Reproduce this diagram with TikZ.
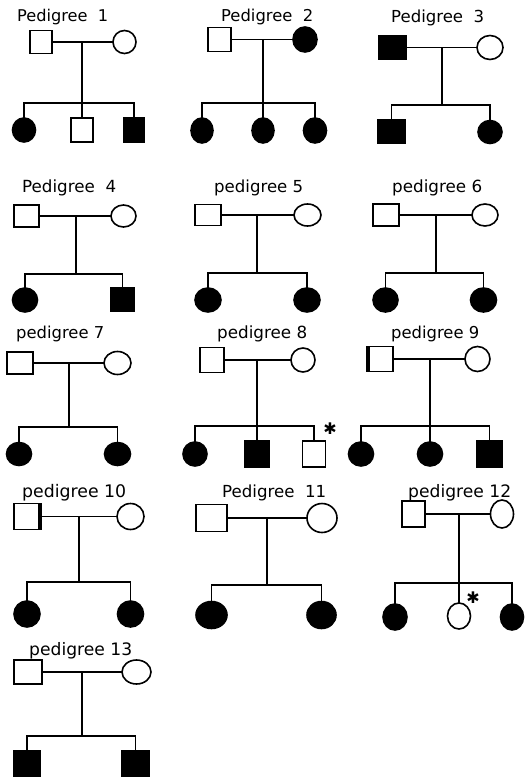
\documentclass[tikz,border=0pt]{standalone}
\usepackage{fontspec}
\usepackage{graphicx}
\setmainfont{DejaVu Sans}
\usetikzlibrary{shapes.geometric}
\newcommand{\pedlab}[2]{\resizebox{#1pt}{!}{#2}}
\tikzset{
  ind/.style={draw=black, line width=1.6pt, inner sep=0pt, outer sep=0pt},
  male/.style 2 args={ind, rectangle, minimum width=#1pt, minimum height=#2pt},
  female/.style 2 args={ind, ellipse, minimum width=#1pt, minimum height=#2pt},
  aff/.style={fill=black},
  lnk/.style={line width=1.6pt},
  lbl/.style={anchor=base west, inner sep=0pt, font=\fontsize{16}{19}\selectfont},
  star/.style={inner sep=0pt, font=\fontsize{16}{18}\selectfont}
}
\begin{document}
\begin{tikzpicture}[x=1pt, y=-1pt]
\useasboundingbox[fill=white] (0,0) rectangle (526,778);

% ---------- Pedigree 1
\node[lbl] (p1t) at (17,22) {\pedlab{91}{Pedigree\ \ 1}};
\node[male={22}{23}] (p1f) at (41,42) {};
\node[female={23}{23}] (p1m) at (124.5,42) {};
\coordinate (p1u) at (82,42);
\coordinate (p1s) at (82,103);
\node[female={23}{24}, aff] (p1c1) at (24,130) {};
\node[male={22}{24}] (p1c2) at (82,130) {};
\node[male={21}{24}, aff] (p1c3) at (134,130) {};
\draw[lnk] (p1f) -- (p1m);
\draw[lnk] (p1u) -- (p1s);
\draw[lnk] (p1c1) |- (p1s) -| (p1c3);
\draw[lnk] (p1s) -- (p1c2);

% ---------- Pedigree 2
\node[lbl] (p2t) at (221,22) {\pedlab{92}{Pedigree\ \ 2}};
\node[male={23}{24}] (p2f) at (219.5,39.5) {};
\node[female={24}{25}, aff] (p2m) at (305,39.5) {};
\coordinate (p2u) at (263,39.5);
\coordinate (p2s) at (263,103);
\node[female={22}{25}, aff] (p2c1) at (202,130.5) {};
\node[female={22}{25}, aff] (p2c2) at (263,130.5) {};
\node[female={23}{25}, aff] (p2c3) at (315,130.5) {};
\draw[lnk] (p2f) -- (p2m);
\draw[lnk] (p2u) -- (p2s);
\draw[lnk] (p2c1) |- (p2s) -| (p2c3);
\draw[lnk] (p2s) -- (p2c2);

% ---------- Pedigree 3
\node[lbl] (p3t) at (391,22.5) {\pedlab{93}{Pedigree\ \ 3}};
\node[male={27}{23}, aff] (p3f) at (392.5,47.5) {};
\node[female={26}{24}] (p3m) at (490,47.5) {};
\coordinate (p3u) at (442,47.5);
\coordinate (p3s) at (442,105);
\node[male={27}{23}, aff] (p3c1) at (391.5,131.5) {};
\node[female={24}{23}, aff] (p3c2) at (490,132) {};
\draw[lnk] (p3f) -- (p3m);
\draw[lnk] (p3u) -- (p3s);
\draw[lnk] (p3c1) |- (p3s) -| (p3c2);

% ---------- Pedigree 4
\node[lbl] (p4t) at (22,193) {\pedlab{94}{Pedigree\ \ 4}};
\node[male={25}{22}] (p4f) at (26.5,216) {};
\node[female={25}{22}] (p4m) at (123.5,216) {};
\coordinate (p4u) at (76,216);
\coordinate (p4s) at (76,274);
\node[female={25}{24}, aff] (p4c1) at (25,300) {};
\node[male={24}{23}, aff] (p4c2) at (122.5,299.5) {};
\draw[lnk] (p4f) -- (p4m);
\draw[lnk] (p4u) -- (p4s);
\draw[lnk] (p4c1) |- (p4s) -| (p4c2);

% ---------- Pedigree 5
\node[lbl] (p5t) at (214,193) {\pedlab{89}{pedigree 5}};
\node[male={26}{21}] (p5f) at (208,215) {};
\node[female={27}{22}] (p5m) at (307.5,215) {};
\coordinate (p5u) at (257,215);
\coordinate (p5s) at (257,273);
\node[female={26}{24}, aff] (p5c1) at (208,300) {};
\node[female={26}{24}, aff] (p5c2) at (307,300) {};
\draw[lnk] (p5f) -- (p5m);
\draw[lnk] (p5u) -- (p5s);
\draw[lnk] (p5c1) |- (p5s) -| (p5c2);

% ---------- Pedigree 6
\node[lbl] (p6t) at (392,193) {\pedlab{90}{pedigree 6}};
\node[male={26}{22}] (p6f) at (386,215) {};
\node[female={26}{22}] (p6m) at (485,215) {};
\coordinate (p6u) at (436,215);
\coordinate (p6s) at (436,273);
\node[female={25}{24}, aff] (p6c1) at (385.5,300) {};
\node[female={26}{24}, aff] (p6c2) at (483.5,300) {};
\draw[lnk] (p6f) -- (p6m);
\draw[lnk] (p6u) -- (p6s);
\draw[lnk] (p6c1) |- (p6s) -| (p6c2);

% ---------- Pedigree 7
\node[lbl] (p7t) at (16,338) {\pedlab{88}{pedigree 7}};
\node[male={26}{22}] (p7f) at (20,363) {};
\node[female={27}{23}] (p7m) at (117.5,363) {};
\coordinate (p7u) at (69,363);
\coordinate (p7s) at (69,427);
\node[female={25}{23}, aff] (p7c1) at (19,454) {};
\node[female={26}{23}, aff] (p7c2) at (117.5,454) {};
\draw[lnk] (p7f) -- (p7m);
\draw[lnk] (p7u) -- (p7s);
\draw[lnk] (p7c1) |- (p7s) -| (p7c2);

% ---------- Pedigree 8
\node[lbl] (p8t) at (217,338) {\pedlab{90}{pedigree 8}};
\node[male={24}{25}] (p8f) at (212,360) {};
\node[female={24}{24}] (p8m) at (303,360) {};
\coordinate (p8u) at (257,360);
\coordinate (p8s) at (257,426);
\node[female={24}{24}, aff] (p8c1) at (195,454) {};
\node[male={24}{26}, aff] (p8c2) at (257,454) {};
\node[male={23}{26}] (p8c3) at (314,454) {};
\node[star] (p8a) at (330,429) {✱};
\draw[lnk] (p8f) -- (p8m);
\draw[lnk] (p8u) -- (p8s);
\draw[lnk] (p8c1) |- (p8s) -| (p8c3);
\draw[lnk] (p8s) -- (p8c2);

% ---------- Pedigree 9
\node[lbl] (p9t) at (391,338) {\pedlab{88}{pedigree 9}};
\node[male={26}{25}] (p9f) at (380,359) {};
\draw[line width=3.2pt] ([xshift=1pt]p9f.north west) -- ([xshift=1pt]p9f.south west);
\node[female={25}{25}] (p9m) at (477.5,359) {};
\coordinate (p9u) at (430,359);
\coordinate (p9s) at (430,426);
\node[female={25}{24}, aff] (p9c1) at (361,454) {};
\node[female={25}{24}, aff] (p9c2) at (430,454) {};
\node[male={25}{26}, aff] (p9c3) at (489.5,454) {};
\draw[lnk] (p9f) -- (p9m);
\draw[lnk] (p9u) -- (p9s);
\draw[lnk] (p9c1) |- (p9s) -| (p9c3);
\draw[lnk] (p9s) -- (p9c2);

% ---------- Pedigree 10
\node[lbl] (p10t) at (22,497) {\pedlab{104}{pedigree 10}};
\node[male={27}{26}] (p10f) at (27.5,516.5) {};
\draw[line width=3.2pt] ([xshift=-1pt]p10f.north east) -- ([xshift=-1pt]p10f.south east);
\node[female={27}{26}] (p10m) at (130.5,516.5) {};
\coordinate (p10u) at (79,516.5);
\coordinate (p10s) at (79,582);
\node[female={26}{26}, aff] (p10c1) at (27,614) {};
\node[female={26}{26}, aff] (p10c2) at (130.5,614) {};
\draw[lnk] (p10f) -- (p10m);
\draw[lnk] (p10u) -- (p10s);
\draw[lnk] (p10c1) |- (p10s) -| (p10c2);

% ---------- Pedigree 11
\node[lbl] (p11t) at (222,497) {\pedlab{104}{Pedigree\ \ 11}};
\node[male={31}{27}] (p11f) at (211.5,518) {};
\node[female={30}{29}] (p11m) at (322,518) {};
\coordinate (p11u) at (267,518);
\coordinate (p11s) at (267,585);
\node[female={31}{27}, aff] (p11c1) at (211.5,615) {};
\node[female={29}{27}, aff] (p11c2) at (321.5,615) {};
\draw[lnk] (p11f) -- (p11m);
\draw[lnk] (p11u) -- (p11s);
\draw[lnk] (p11c1) |- (p11s) -| (p11c2);

% ---------- Pedigree 12
\node[lbl] (p12t) at (408,497) {\pedlab{103}{pedigree 12}};
\node[male={23}{26}] (p12f) at (413.5,514) {};
\node[female={23}{28}] (p12m) at (502,514) {};
\coordinate (p12u) at (459,514);
\coordinate (p12s) at (459,583);
\node[female={24}{26}, aff] (p12c1) at (395,617) {};
\node[female={23}{26}] (p12c2) at (459,616) {};
\node[female={23}{26}, aff] (p12c3) at (512,617) {};
\node[star] (p12a) at (473,598) {✱};
\draw[lnk] (p12f) -- (p12m);
\draw[lnk] (p12u) -- (p12c2);
\draw[lnk] (p12c1) |- (p12s) -| (p12c3);

% ---------- Pedigree 13
\node[lbl] (p13t) at (29,655) {\pedlab{103}{pedigree 13}};
\node[male={28}{24}] (p13f) at (28,672) {};
\node[female={29}{24}] (p13m) at (136.5,672) {};
\coordinate (p13u) at (82,672);
\coordinate (p13s) at (82,736);
\node[male={27}{25}, aff] (p13c1) at (27,763.5) {};
\node[male={28}{25}, aff] (p13c2) at (135.5,763.5) {};
\draw[lnk] (p13f) -- (p13m);
\draw[lnk] (p13u) -- (p13s);
\draw[lnk] (p13c1) |- (p13s) -| (p13c2);
\end{tikzpicture}
\end{document}
